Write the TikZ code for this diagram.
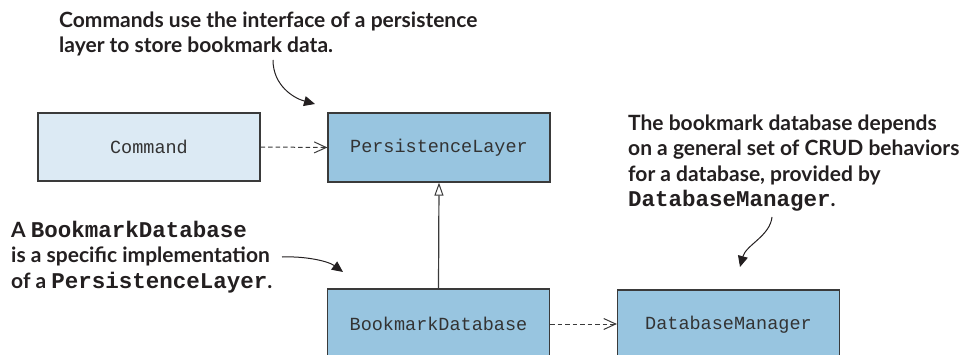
\documentclass[tikz,border=0pt]{standalone}
\usepackage{fontspec}
\setmainfont{Lato}
\setmonofont{Liberation Mono}
\usetikzlibrary{arrows.meta}
\definecolor{boxdark}{HTML}{98C5E0}
\definecolor{boxlight}{HTML}{DCEAF4}
\definecolor{edge}{HTML}{3A3A3A}
\definecolor{ink}{HTML}{231F20}
\newcommand{\mcode}[1]{{\fontsize{22.5}{25.5}\selectfont\ttfamily\bfseries #1}}
\begin{document}
\begin{tikzpicture}[x=1pt,y=-1pt,
  classbox/.style={draw=edge,line width=1.2pt,minimum width=222pt,inner sep=0pt,
    font=\fontsize{18.5}{20}\selectfont\ttfamily,text=black!80},
  note/.style={inner sep=0pt,align=left,text=ink,
    font=\fontsize{21}{25.5}\selectfont\bfseries},
  dep/.style={draw=edge,line width=1pt,dash pattern=on 4.5pt off 3pt,
    -{Straight Barb[length=12pt,width=11pt,line width=1pt]}},
  inherit/.style={draw=edge,line width=1.2pt,
    -{Triangle[open,length=13pt,width=9pt,line width=1pt,fill=white]}},
  callout/.style={draw=ink,line width=1pt,-{Triangle[length=11pt,width=10pt]}}]
\useasboundingbox (0,0) rectangle (960,355);
\clip (0,0) rectangle (960,355);

\node[classbox,fill=boxlight,minimum height=68pt] (cmd) at (149,147) {Command};
\node[classbox,fill=boxdark,minimum height=69pt] (pl) at (439,147.5) {PersistenceLayer};
\node[classbox,fill=boxdark,minimum height=70pt] (bd) at (438.5,324) {BookmarkDatabase};
\node[classbox,fill=boxdark,minimum height=70pt] (dm) at (728.5,325) {DatabaseManager};

\draw[dep] (cmd.east) -- (pl.west);
\draw[dep] (bd.east) -- (dm.west|-bd.east);
\draw[inherit] (bd.north) -- (pl.south);

\node[note,anchor=base west] (n1) at (59,53)
  {Commands use the interface of a persistence\\layer to store bookmark data.};
\node[note,anchor=base west] (n2) at (11,288)
  {A \mcode{BookmarkDatabase}\\is a specific implementation\\of a \mcode{PersistenceLayer}.};
\node[note,anchor=base west] (n3) at (628,207)
  {The bookmark database depends\\on a general set of CRUD behaviors\\for a database, provided by\\\mcode{DatabaseManager}.};

\coordinate (s1) at (273,60);
\coordinate (t1) at (315,104);
\coordinate (s2) at (282,257);
\coordinate (t2) at (343,272);
\coordinate (s3) at (772,217);
\coordinate (t3) at (740,267);
\draw[callout] (s1) .. controls (273,85) and (293,98) .. (t1);
\draw[callout] (s2) .. controls (305,256) and (328,261) .. (t2);
\draw[callout] (s3) .. controls (770,236) and (746,245) .. (t3);
\end{tikzpicture}
\end{document}
